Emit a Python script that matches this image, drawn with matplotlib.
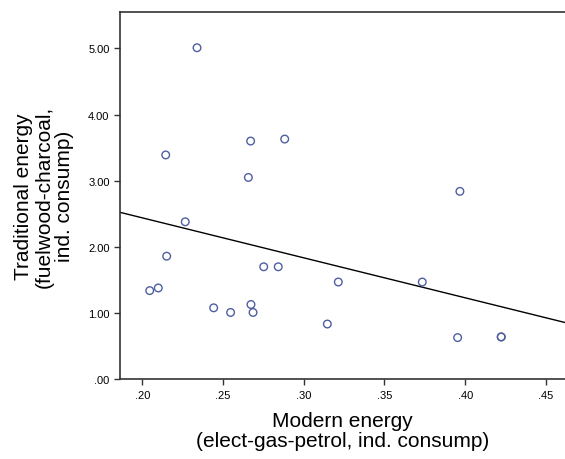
import matplotlib
matplotlib.use("Agg")
import matplotlib.pyplot as plt
import numpy as np

plt.rcParams["font.family"] = ["Liberation Sans", "DejaVu Sans"]

# modern energy (x) vs traditional energy (y), one point per case
# (the point at .42 / .64 is drawn twice - two cases overlap there)
modern = [0.2339, 0.2145, 0.2671, 0.2882, 0.2657, 0.3967, 0.2266, 0.2151,
          0.2046, 0.2099, 0.2442, 0.2547, 0.2673, 0.2686, 0.2752, 0.2842,
          0.3214, 0.3146, 0.3734, 0.3953, 0.4223, 0.4223]
traditional = [5.01, 3.39, 3.60, 3.63, 3.05, 2.84, 2.38, 1.86,
               1.34, 1.38, 1.08, 1.01, 1.13, 1.01, 1.70, 1.70,
               1.47, 0.835, 1.47, 0.63, 0.64, 0.64]

x_ticks = [0.20, 0.25, 0.30, 0.35, 0.40, 0.45]
y_ticks = [0, 1, 2, 3, 4, 5]


def fmt(v):
    s = f"{v:.2f}"
    return s[1:] if s.startswith("0") else s


def main():
    fig = plt.figure(figsize=(5.65, 4.6), dpi=100)
    ax = fig.add_axes([0.2124, 0.1733, 0.7876, 0.7984])

    ax.scatter(modern, traditional, s=30, facecolors="none",
               edgecolors="#4f5f9f", linewidths=1.0, zorder=3)

    xlim = (0.1862, 0.4618)
    slope, intercept = np.polyfit(modern, traditional, 1)
    xs = np.array(xlim)
    ax.plot(xs, slope * xs + intercept, color="black", lw=1.0)

    ax.set_xlim(*xlim)
    ax.set_ylim(0, 5.55)
    ax.set_xticks(x_ticks)
    ax.set_xticklabels([fmt(v) for v in x_ticks])
    ax.set_yticks(y_ticks)
    ax.set_yticklabels([fmt(v) for v in y_ticks])
    ax.tick_params(direction="out", length=4, width=1, labelsize=8, color="#333333")

    for side in ["left", "bottom", "top"]:
        ax.spines[side].set_color("#333333")
        ax.spines[side].set_linewidth(1.2)
    ax.spines["right"].set_visible(False)

    ax.set_xlabel("Modern energy\n(elect-gas-petrol, ind. consump)", fontsize=15,
                  labelpad=8, linespacing=1.1)
    ax.set_ylabel("Traditional energy\n(fuelwood-charcoal,\nind. consump)", fontsize=15,
                  labelpad=10, linespacing=1.1)

    fig.savefig("out.png", dpi=100)
    plt.close(fig)


if __name__ == "__main__":
    main()
